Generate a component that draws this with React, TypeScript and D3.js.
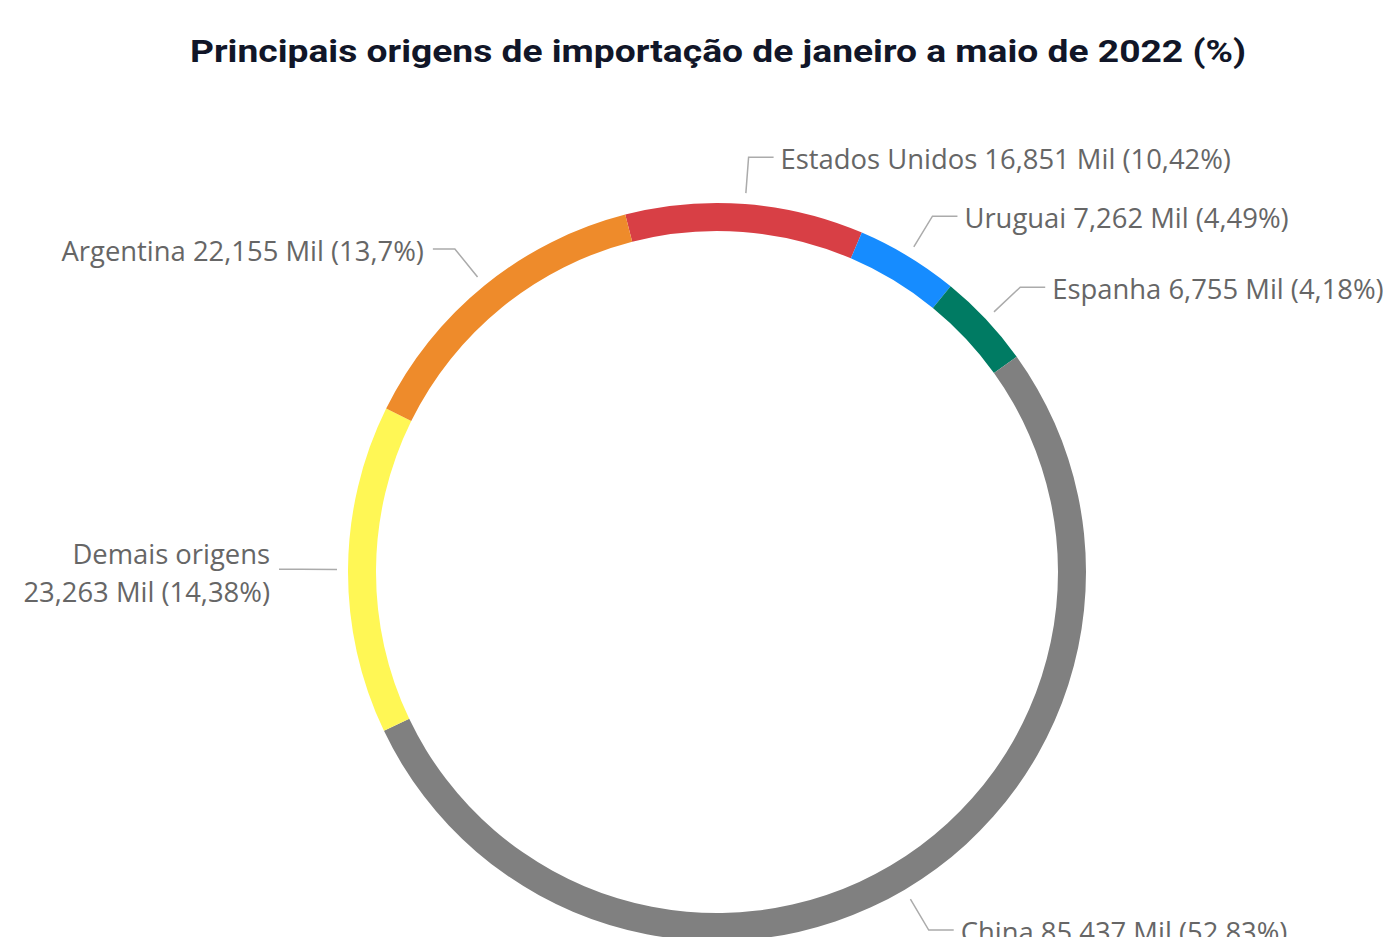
import React, { useMemo } from "react";
import * as d3 from "d3";

const categories = ["Estados Unidos", "Uruguai", "Espanha", "China", "Demais origens", "Argentina"];
const valuesMil = [16.851, 7.262, 6.755, 85.437, 23.263, 22.155];
const valueLabels = ["16,851", "7,262", "6,755", "85,437", "23,263", "22,155"];
const percentLabels = ["10,42%", "4,49%", "4,18%", "52,83%", "14,38%", "13,7%"];
const colors = ["#D83F45", "#168CFF", "#007B63", "#808080", "#FFF755", "#EE8B2B"];
const title = "Principais origens de importação de janeiro a maio de 2022 (%)";

const W = 1383;
const H = 937;
const cx = 717;
const cy = 572;
const outerR = 369;
const innerR = 341;
const startOffset = (-14.4 * Math.PI) / 180;
const labelFont = "'Open Sans', 'Noto Sans', sans-serif";
const labelSize = 27.4;

function measure(text: string): number {
  const c = document.createElement("canvas");
  const ctx = c.getContext("2d");
  if (!ctx) return text.length * labelSize * 0.5;
  ctx.font = `${labelSize}px ${labelFont}`;
  return ctx.measureText(text).width;
}

export default function App() {
  const arcs = useMemo(() => {
    const pie = d3
      .pie<number>()
      .sort(null)
      .value((d) => d)
      .startAngle(startOffset)
      .endAngle(startOffset + 2 * Math.PI);
    return pie(valuesMil);
  }, []);

  const arcGen = d3.arc<d3.PieArcDatum<number>>().innerRadius(innerR).outerRadius(outerR);

  return (
    <svg
      width={W}
      height={H}
      style={{ position: "fixed", left: 0, top: 0, background: "#fff" }}
    >
      <text
        x={718}
        y={62}
        textAnchor="middle"
        fontFamily="Roboto, 'DejaVu Sans', sans-serif"
        fontWeight={700}
        fontSize={32}
        fill="#111628"
        textLength={1056}
        lengthAdjust="spacingAndGlyphs"
      >
        {title}
      </text>
      <g transform={`translate(${cx},${cy})`}>
        {arcs.map((a, i) => (
          <path key={categories[i]} d={arcGen(a) || ""} fill={colors[i]} />
        ))}
      </g>
      {arcs.map((a, i) => {
        const mid = (a.startAngle + a.endAngle) / 2;
        const sx = cx + 380 * Math.sin(mid);
        const sy = cy - 380 * Math.cos(mid);
        const kx = cx + 416 * Math.sin(mid);
        const ky = cy - 416 * Math.cos(mid);
        const right = Math.sin(mid) >= 0;
        const ex = right ? kx + 25 : kx - 22;
        const tx = right ? ex + 7 : ex - 9;
        const full = `${categories[i]} ${valueLabels[i]} Mil (${percentLabels[i]})`;
        const avail = right ? W - tx : tx;
        const wrap = measure(full) > avail + 30;
        return (
          <g key={"l" + categories[i]}>
            <polyline
              points={`${sx},${sy} ${kx},${ky} ${ex},${ky}`}
              fill="none"
              stroke="#ABABAB"
              strokeWidth={1.5}
            />
            {wrap ? (
              <text
                x={tx}
                y={ky - 5}
                textAnchor={right ? "start" : "end"}
                fontFamily={labelFont}
                fontSize={labelSize}
                fill="#666666"
              >
                <tspan x={tx}>{categories[i]}</tspan>
                <tspan x={tx} dy={38}>{`${valueLabels[i]} Mil (${percentLabels[i]})`}</tspan>
              </text>
            ) : (
              <text
                x={tx}
                y={ky + 12}
                textAnchor={right ? "start" : "end"}
                fontFamily={labelFont}
                fontSize={labelSize}
                fill="#666666"
              >
                {full}
              </text>
            )}
          </g>
        );
      })}
    </svg>
  );
}
